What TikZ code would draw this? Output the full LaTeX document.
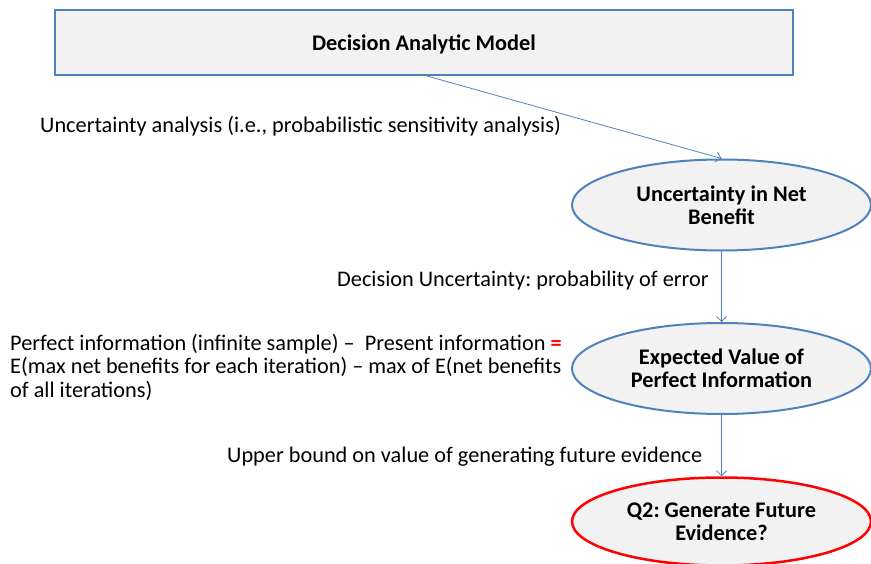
\documentclass[tikz,border=0pt]{standalone}
\usepackage{fontspec}
\setmainfont{Carlito}
\usetikzlibrary{arrows.meta,shapes.geometric}
\definecolor{boxblue}{HTML}{4F81BD}
\definecolor{boxfill}{HTML}{F2F2F2}
\frenchspacing
\begin{document}
\begin{tikzpicture}[x=1pt,y=-1pt,
  every node/.style={font=\fontsize{22.3}{23.5}\selectfont, inner sep=0pt},
  model/.style={draw=boxblue, fill=boxfill, line width=2pt,
    minimum width=738pt, minimum height=65pt,
    font=\fontsize{22.3}{23.5}\selectfont\bfseries},
  oval/.style={ellipse, draw=boxblue, fill=boxfill, line width=2pt,
    minimum width=299pt, minimum height=91pt, align=center,
    font=\fontsize{22.3}{23}\selectfont\bfseries},
  redoval/.style={oval, draw=red, line width=2.5pt, minimum height=88pt},
  link/.style={draw=boxblue, line width=0.8pt,
    -{Straight Barb[length=5pt,width=10pt]}},
  lbl/.style={anchor=west, align=left}
]
\useasboundingbox (0,0) rectangle (871,564);

% boxes and ovals
\node[model] (dam) at (424,42.5) {\raisebox{-2pt}[\height][\depth]{Decision Analytic Model}};
\node[oval] (unb) at (721.5,205) {Uncertainty in Net\\Benefit};
\node[oval] (evpi) at (721.5,368.5) {Expected Value of\\Perfect Information};
\node[redoval] (q2) at (721.5,521.5) {Q2: Generate Future\\Evidence?};

% connectors
\draw[link] ([xshift=3pt]dam.south) -- (unb.north);
\draw[link] (unb) -- (evpi);
\draw[link] (evpi) -- (q2);

% labels
\node[lbl] (l1) at (40,126) {Uncertainty analysis (i.e., probabilistic sensitivity analysis)};
\node[lbl] (l2) at (337,281) {Decision Uncertainty: probability of error};
\node[lbl] (l3) at (10,367) {Perfect information (infinite sample) \textendash\ \ Present information {\color{red}\bfseries =}\\
E(max net benefits for each iteration) \textendash\ max of E(net benefits\\
of all iterations)};
\node[lbl] (l4) at (227,457) {Upper bound on value of generating future evidence};
\end{tikzpicture}
\end{document}
